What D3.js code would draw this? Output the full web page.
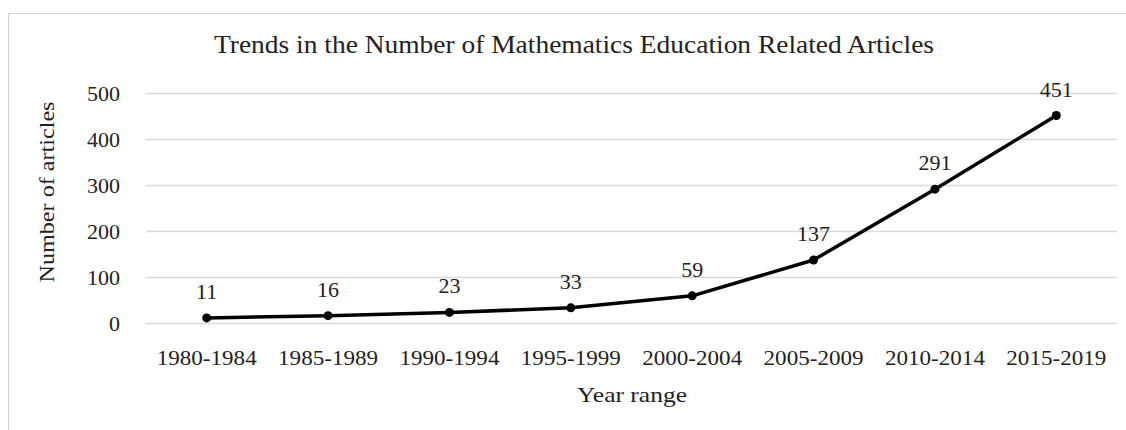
<!DOCTYPE html>
<html>
<head>
<meta charset="utf-8">
<script src="https://cdn.jsdelivr.net/npm/d3@7"></script>
<style>
  body { margin: 0; background: #fff; }
  svg text { font-family: "Liberation Serif", "DejaVu Serif", serif; fill: #222; }
</style>
</head>
<body>
<div id="chart"></div>
<script>
var categories = ["1980-1984", "1985-1989", "1990-1994", "1995-1999",
                  "2000-2004", "2005-2009", "2010-2014", "2015-2019"];
var articles = [11, 16, 23, 33, 59, 137, 291, 451];
var yTicks = [0, 100, 200, 300, 400, 500];

var w = 1126, h = 430;
var margin = {left: 146, right: 9, top: 93, bottom: 107};

var svg = d3.select("#chart")
  .append("svg")
  .attr("width", w)
  .attr("height", h);

// frame
svg.append("path")
  .attr("d", "M8.5,430 V13.5 H1126")
  .attr("fill", "none")
  .attr("stroke", "#d0d0d0")
  .attr("stroke-width", 1);

var x = d3.scaleBand()
  .domain(categories)
  .range([margin.left, w - margin.right]);

var y = d3.scaleLinear()
  .domain([0, 500])
  .range([h - margin.bottom, margin.top]);

// gridlines
svg.append("g")
  .selectAll("line")
  .data(yTicks)
  .enter()
  .append("line")
  .attr("x1", margin.left)
  .attr("x2", w - margin.right)
  .attr("y1", function(d) { return y(d) + 0.5; })
  .attr("y2", function(d) { return y(d) + 0.5; })
  .attr("stroke", "#d9d9d9")
  .attr("stroke-width", 1.5);

// y axis labels
var yAxis = svg.append("g")
  .attr("transform", "translate(" + (margin.left - 26) + ",0)")
  .call(d3.axisLeft(y).tickValues(yTicks).tickSize(0).tickPadding(0));
yAxis.select(".domain").remove();
yAxis.selectAll("text")
  .attr("font-size", "22px")
  .attr("dy", "0.35em");

// x axis labels
var xAxis = svg.append("g")
  .attr("transform", "translate(0," + (h - margin.bottom) + ")")
  .call(d3.axisBottom(x).tickSize(0).tickPadding(26));
xAxis.select(".domain").remove();
xAxis.selectAll("text")
  .attr("font-size", "22px")
  .attr("textLength", 100)
  .attr("lengthAdjust", "spacingAndGlyphs");

// line
var line = d3.line()
  .x(function(d, i) { return x(categories[i]) + x.bandwidth() / 2; })
  .y(function(d) { return y(d); });

svg.append("path")
  .datum(articles)
  .attr("d", line)
  .attr("fill", "none")
  .attr("stroke", "#000")
  .attr("stroke-width", 3.5)
  .attr("stroke-linejoin", "round");

svg.selectAll("circle")
  .data(articles)
  .enter()
  .append("circle")
  .attr("cx", function(d, i) { return x(categories[i]) + x.bandwidth() / 2; })
  .attr("cy", function(d) { return y(d); })
  .attr("r", 4.5)
  .attr("fill", "#000");

// data labels
svg.append("g")
  .selectAll("text")
  .data(articles)
  .enter()
  .append("text")
  .text(function(d) { return d; })
  .attr("text-anchor", "middle")
  .attr("x", function(d, i) { return x(categories[i]) + x.bandwidth() / 2; })
  .attr("y", function(d) { return y(d) - 19; })
  .attr("font-size", "22px");

// titles
svg.append("text")
  .text("Trends in the Number of Mathematics Education Related Articles")
  .attr("x", 574)
  .attr("y", 53)
  .attr("text-anchor", "middle")
  .attr("font-size", "25px")
  .attr("textLength", 720)
  .attr("lengthAdjust", "spacingAndGlyphs");

svg.append("text")
  .text("Year range")
  .attr("x", 632)
  .attr("y", 402)
  .attr("text-anchor", "middle")
  .attr("font-size", "22px")
  .attr("textLength", 110)
  .attr("lengthAdjust", "spacingAndGlyphs");

svg.append("text")
  .text("Number of articles")
  .attr("transform", "translate(54,192) rotate(-90)")
  .attr("text-anchor", "middle")
  .attr("font-size", "22px")
  .attr("textLength", 181)
  .attr("lengthAdjust", "spacingAndGlyphs");
</script>
</body>
</html>
